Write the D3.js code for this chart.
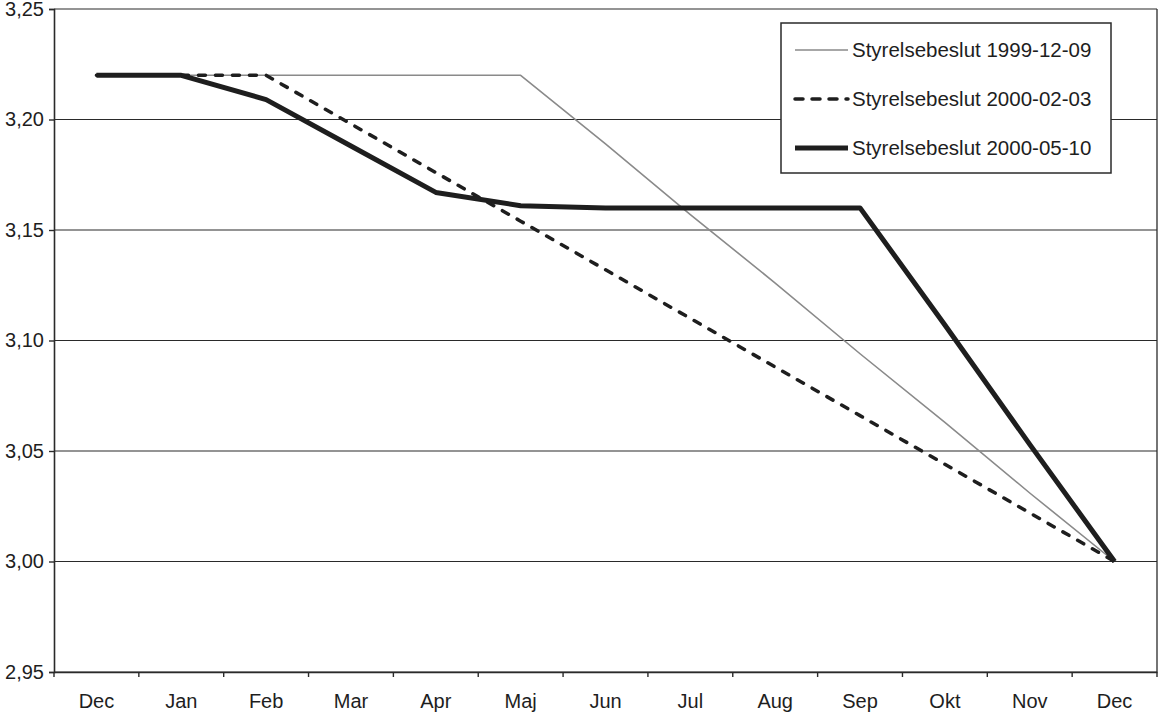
<!DOCTYPE html>
<html>
<head>
<meta charset="utf-8">
<script src="https://cdn.jsdelivr.net/npm/d3@7"></script>
<style>
  body { margin: 0; background: #fff; }
  svg text { font-family: "Liberation Sans", Arial, sans-serif; fill: #1e1e1e; }
</style>
</head>
<body>
<svg class="chart" width="1163" height="715"></svg>
<script>
// Month labels along the x axis (Dec 1999 .. Dec 2000)
const months = ["Dec", "Jan", "Feb", "Mar", "Apr", "Maj", "Jun", "Jul", "Aug", "Sep", "Okt", "Nov", "Dec"];

// Series values
const beslut19991209 = [3.22, 3.22, 3.22, 3.22, 3.22, 3.22, 3.189, 3.157, 3.126, 3.094, 3.063, 3.031, 3.00];
const beslut20000203 = [3.22, 3.22, 3.22, 3.198, 3.176, 3.154, 3.132, 3.11, 3.088, 3.066, 3.044, 3.022, 3.00];
const beslut20000510 = [3.22, 3.22, 3.209, 3.188, 3.167, 3.161, 3.16, 3.16, 3.16, 3.16, 3.107, 3.053, 3.00];

const seriesNames = ["Styrelsebeslut 1999-12-09", "Styrelsebeslut 2000-02-03", "Styrelsebeslut 2000-05-10"];
const yTicks = [2.95, 3.00, 3.05, 3.10, 3.15, 3.20, 3.25];

const series = [
    { name: seriesNames[0], values: beslut19991209, color: "#8a8a8a", width: 1.6, dash: null },
    { name: seriesNames[1], values: beslut20000203, color: "#1e1e1e", width: 3.5, dash: "7,10" },
    { name: seriesNames[2], values: beslut20000510, color: "#1e1e1e", width: 5, dash: null }
];

const svg = d3.select(".chart");
const margin = { top: 9, right: 6, bottom: 43, left: 54 },
      width = +svg.attr("width") - margin.left - margin.right,
      height = +svg.attr("height") - margin.top - margin.bottom;

const g = svg.append("g").attr("transform", `translate(${margin.left},${margin.top})`);

const x = d3.scaleBand()
    .domain(d3.range(months.length))
    .range([0, width])
    .padding(0);

const y = d3.scaleLinear()
    .domain([2.95, 3.25])
    .range([height, 0]);

const fmt = d => d3.format(".2f")(d).replace(".", ",");

// Gridlines
g.selectAll(".grid")
    .data(yTicks)
    .enter().append("line")
    .attr("class", "grid")
    .attr("x1", 0)
    .attr("x2", width)
    .attr("y1", d => y(d))
    .attr("y2", d => y(d))
    .attr("stroke", "#2a2a2a")
    .attr("stroke-width", 1.1);

// Right border
g.append("line")
    .attr("x1", width).attr("x2", width)
    .attr("y1", 0).attr("y2", height)
    .attr("stroke", "#2a2a2a")
    .attr("stroke-width", 1.3);

// Y axis
const yAxis = g.append("g")
    .call(d3.axisLeft(y).tickValues(yTicks).tickFormat(fmt).tickSize(5).tickPadding(5));
yAxis.select(".domain").attr("stroke", "#2a2a2a").attr("stroke-width", 1.6);
yAxis.selectAll(".tick line").attr("stroke", "#2a2a2a").attr("stroke-width", 1.4);
yAxis.selectAll(".tick text")
    .attr("font-size", 20)
    .attr("fill", "#1e1e1e")
    .style("font-family", "'Liberation Sans', Arial, sans-serif")
    .attr("x", -10);

// X axis: labels at band centres, tick marks at band boundaries
const xAxis = g.append("g")
    .attr("transform", `translate(0,${height})`)
    .call(d3.axisBottom(x).tickFormat(i => months[i]).tickSize(0).tickPadding(22));
xAxis.select(".domain").attr("stroke", "#2a2a2a").attr("stroke-width", 1.6);
xAxis.selectAll(".tick text")
    .attr("font-size", 20)
    .attr("fill", "#1e1e1e")
    .style("font-family", "'Liberation Sans', Arial, sans-serif");

const boundaries = d3.range(months.length + 1).map(i => i < months.length ? x(i) : width);
xAxis.selectAll(".bound")
    .data(boundaries)
    .enter().append("line")
    .attr("class", "bound")
    .attr("x1", d => d).attr("x2", d => d)
    .attr("y1", 0).attr("y2", 5)
    .attr("stroke", "#2a2a2a")
    .attr("stroke-width", 1.4);

// Lines
const line = d3.line()
    .x((d, i) => x(i) + x.bandwidth() / 2)
    .y(d => y(d));

g.selectAll(".series")
    .data(series)
    .enter().append("path")
    .attr("class", "series")
    .attr("fill", "none")
    .attr("stroke", d => d.color)
    .attr("stroke-width", d => d.width)
    .attr("stroke-dasharray", d => d.dash)
    .attr("stroke-linejoin", "round")
    .attr("stroke-linecap", d => d.dash ? "round" : "butt")
    .attr("d", d => line(d.values));

// Legend
const legend = svg.append("g").attr("transform", "translate(781,23)");
legend.append("rect")
    .attr("width", 330)
    .attr("height", 150)
    .attr("fill", "#fff")
    .attr("stroke", "#2a2a2a")
    .attr("stroke-width", 1.5);

const item = legend.selectAll(".item")
    .data(series)
    .enter().append("g")
    .attr("class", "item")
    .attr("transform", (d, i) => `translate(0,${27 + i * 49})`);

item.append("line")
    .attr("x1", 14).attr("x2", 67)
    .attr("y1", 0).attr("y2", 0)
    .attr("stroke", d => d.color)
    .attr("stroke-width", d => d.width)
    .attr("stroke-dasharray", d => d.dash ? "8,9" : null)
    .attr("stroke-linecap", d => d.dash ? "round" : "butt");

item.append("text")
    .attr("x", 71)
    .attr("y", 7)
    .attr("font-size", 20.5)
    .text(d => d.name);
</script>
</body>
</html>
